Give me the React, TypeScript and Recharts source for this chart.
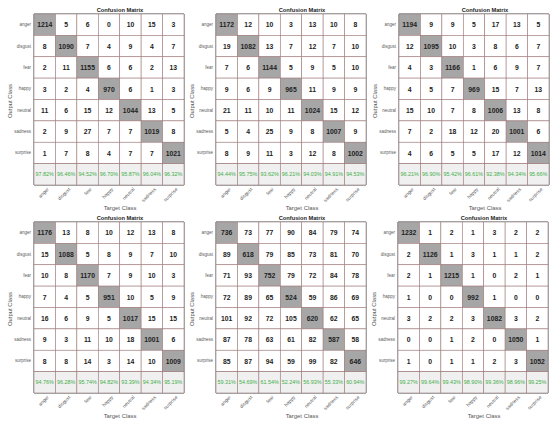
import React from 'react';
import { ScatterChart, Scatter, XAxis, YAxis, ReferenceArea, ReferenceLine } from 'recharts';

const CLASSES = ['anger', 'disgust', 'fear', 'happy', 'neutral', 'sadness', 'surprise'];

const M1 = [
  [1214, 5, 6, 0, 10, 15, 3],
  [8, 1090, 7, 4, 9, 4, 7],
  [2, 11, 1155, 6, 6, 2, 13],
  [3, 2, 4, 970, 6, 1, 3],
  [11, 6, 15, 12, 1044, 13, 5],
  [2, 9, 27, 7, 7, 1019, 8],
  [1, 7, 8, 4, 7, 7, 1021],
];
const ACC1 = ['97.82%', '96.46%', '94.52%', '96.70%', '95.87%', '96.04%', '96.32%'];

const M2 = [
  [1172, 12, 10, 3, 13, 10, 8],
  [19, 1082, 13, 7, 12, 7, 10],
  [7, 6, 1144, 5, 9, 5, 10],
  [9, 6, 9, 965, 11, 9, 9],
  [21, 11, 10, 11, 1024, 15, 12],
  [5, 4, 25, 9, 8, 1007, 9],
  [8, 9, 11, 3, 12, 8, 1002],
];
const ACC2 = ['94.44%', '95.75%', '93.62%', '96.21%', '94.03%', '94.91%', '94.53%'];

const M3 = [
  [1194, 9, 9, 5, 17, 13, 5],
  [12, 1095, 10, 3, 8, 6, 7],
  [4, 3, 1166, 1, 6, 9, 7],
  [4, 5, 7, 969, 15, 7, 13],
  [15, 10, 7, 8, 1006, 13, 8],
  [7, 2, 18, 12, 20, 1001, 6],
  [4, 6, 5, 5, 17, 12, 1014],
];
const ACC3 = ['96.21%', '96.90%', '95.42%', '96.61%', '92.38%', '94.34%', '95.66%'];

const M4 = [
  [1176, 13, 8, 10, 12, 13, 8],
  [15, 1088, 5, 8, 9, 7, 10],
  [10, 8, 1170, 7, 9, 10, 3],
  [7, 4, 5, 951, 10, 5, 9],
  [16, 6, 9, 5, 1017, 15, 15],
  [9, 3, 11, 10, 18, 1001, 6],
  [8, 8, 14, 3, 14, 10, 1009],
];
const ACC4 = ['94.76%', '96.28%', '95.74%', '94.82%', '93.39%', '94.34%', '95.19%'];

const M5 = [
  [736, 73, 77, 90, 84, 79, 74],
  [89, 618, 79, 85, 73, 81, 70],
  [71, 93, 752, 79, 72, 84, 78],
  [72, 89, 65, 524, 59, 86, 69],
  [101, 92, 72, 105, 620, 62, 65],
  [87, 78, 63, 61, 82, 587, 58],
  [85, 87, 94, 59, 99, 82, 646],
];
const ACC5 = ['59.31%', '54.69%', '61.54%', '52.24%', '56.93%', '55.33%', '60.94%'];

const M6 = [
  [1232, 1, 2, 1, 3, 2, 2],
  [2, 1126, 1, 3, 1, 1, 2],
  [2, 1, 1215, 1, 0, 2, 1],
  [1, 0, 0, 992, 1, 0, 0],
  [3, 2, 2, 3, 1082, 3, 2],
  [0, 0, 1, 2, 0, 1050, 1],
  [1, 0, 1, 1, 2, 3, 1052],
];
const ACC6 = ['99.27%', '99.64%', '99.43%', '98.90%', '99.36%', '98.96%', '99.25%'];

const TICKS = [0.5, 1.5, 2.5, 3.5, 4.5, 5.5, 6.5];

const GRID_W = 150;
const GRID_H = 171;
const Y_AXIS_W = 33;
const TOP = 14;
const X_AXIS_H = 27;
const RIGHT = 2;
const CW = GRID_W / 7;
const CH = GRID_H / 8;
const FONT = 'Liberation Sans, Arial, Helvetica, sans-serif';

const PANELS = [
  { key: 'p1', gx: 33.5, gy: 14, m: M1, acc: ACC1 },
  { key: 'p2', gx: 216, gy: 14, m: M2, acc: ACC2 },
  { key: 'p3', gx: 398.5, gy: 13.5, m: M3, acc: ACC3 },
  { key: 'p4', gx: 33.5, gy: 221.5, m: M4, acc: ACC4 },
  { key: 'p5', gx: 216, gy: 221.5, m: M5, acc: ACC5 },
  { key: 'p6', gx: 398, gy: 221.5, m: M6, acc: ACC6 },
];

function buildCells(m: number[][]) {
  return m.flatMap((row, r) => row.map((v, c) => ({ x: c + 0.5, y: r + 0.5, v, diag: r === c })));
}
function buildAcc(acc: string[]) {
  return acc.map((a, c) => ({ x: c + 0.5, y: 7.5, v: a }));
}

const CellShape = (props: any) => {
  const { cx, cy, payload } = props;
  return (
    <g opacity={0.999}>
      <rect
        x={cx - CW / 2}
        y={cy - CH / 2}
        width={CW}
        height={CH}
        fill={payload.diag ? '#a6a6a6' : '#ffffff'}
        stroke="#a07a7a"
        strokeWidth={0.6}
      />
      <text
        x={cx}
        y={cy + 0.3}
        textAnchor="middle"
        dominantBaseline="central"
        fontSize={6.8}
        fontWeight="bold"
        fill="#222222"
        fontFamily={FONT}
      >
        {payload.v}
      </text>
    </g>
  );
};

const AccShape = (props: any) => {
  const { cx, cy, payload } = props;
  return (
    <g opacity={0.999}>
      <rect x={cx - CW / 2} y={cy - CH / 2} width={CW} height={CH} fill="#f0f0f0" stroke="#a07a7a" strokeWidth={0.6} />
      <text x={cx} y={cy} textAnchor="middle" dominantBaseline="central" fontSize={5.4} fill="#3fae49" fontFamily={FONT}>
        {payload.v}
      </text>
    </g>
  );
};

const XTick = (props: any) => {
  const { x, y, payload } = props;
  const name = CLASSES[Math.floor(payload.value)];
  return (
    <g transform={`translate(${x + 3.5},${y + 3.5})`} opacity={0.999}>
      <text transform="rotate(-45)" textAnchor="end" dominantBaseline="central" fontSize={4.9} fill="#5a5a5a" fontFamily={FONT}>
        {name}
      </text>
    </g>
  );
};

const YTick = (props: any) => {
  const { x, y, payload } = props;
  const name = CLASSES[Math.floor(payload.value)];
  return (
    <g opacity={0.999}>
      <text x={x} y={y} textAnchor="end" dominantBaseline="central" fontSize={4.5} fill="#5a5a5a" fontFamily={FONT}>
        {name}
      </text>
    </g>
  );
};

const TargetLabel = (props: any) => {
  const vb = props.viewBox;
  return (
    <g opacity={0.999}>
      <text x={vb.x + vb.width / 2 + 11} y={vb.y + 23} textAnchor="middle" dominantBaseline="central" fontSize={5.9} fill="#555" fontFamily={FONT}>
        Target Class
      </text>
    </g>
  );
};

const OutputLabel = (props: any) => {
  const vb = props.viewBox;
  const x = vb.x + 8.5;
  const y = vb.y + vb.height / 2 + 1.5;
  return (
    <g opacity={0.999}>
      <text x={x} y={y} transform={`rotate(-90 ${x} ${y})`} textAnchor="middle" dominantBaseline="central" fontSize={5.9} fill="#555" fontFamily={FONT}>
        Output Class
      </text>
    </g>
  );
};

const TitleLabel = (props: any) => {
  const vb = props.viewBox;
  return (
    <g opacity={0.999}>
      <text x={vb.x + vb.width / 2 + 11} y={vb.y - 2.5} textAnchor="middle" fontSize={5.7} fontWeight="bold" fill="#222" fontFamily={FONT}>
        Confusion Matrix
      </text>
    </g>
  );
};

function Panel({ gx, gy, m, acc }: { gx: number; gy: number; m: number[][]; acc: string[] }) {
  const cells = buildCells(m);
  const accCells = buildAcc(acc);
  return (
    <div style={{ position: 'absolute', left: gx - Y_AXIS_W, top: gy - TOP }}>
      <ScatterChart
        width={Y_AXIS_W + GRID_W + RIGHT}
        height={TOP + GRID_H + X_AXIS_H}
        margin={{ top: TOP, right: RIGHT, bottom: 0, left: 0 }}
      >
        <XAxis
          type="number"
          dataKey="x"
          domain={[0, 7]}
          ticks={TICKS}
          interval={0}
          tick={<XTick />}
          tickLine={false}
          axisLine={false}
          tickSize={0}
          tickMargin={0}
          height={X_AXIS_H}
          allowDataOverflow
          label={TargetLabel}
        />
        <YAxis
          type="number"
          dataKey="y"
          domain={[0, 8]}
          reversed
          ticks={TICKS}
          interval={0}
          tick={<YTick />}
          tickLine={false}
          axisLine={false}
          tickSize={0}
          tickMargin={3}
          width={Y_AXIS_W}
          allowDataOverflow
          label={OutputLabel}
        />
        <Scatter data={cells} shape={CellShape} isAnimationActive={false} />
        <Scatter data={accCells} shape={AccShape} isAnimationActive={false} />
        <ReferenceLine y={7} stroke="#333" strokeWidth={1.2} />
        <ReferenceArea
          x1={0}
          x2={7}
          y1={0}
          y2={8}
          fill="none"
          fillOpacity={0}
          stroke="#444"
          strokeWidth={1}
          label={TitleLabel}
        />
      </ScatterChart>
    </div>
  );
}

export default function App() {
  return (
    <div style={{ position: 'absolute', left: 0, top: 0, width: 550, height: 421, background: '#ffffff', overflow: 'hidden' }}>
      {PANELS.map((p) => (
        <Panel key={p.key} gx={p.gx} gy={p.gy} m={p.m} acc={p.acc} />
      ))}
    </div>
  );
}
